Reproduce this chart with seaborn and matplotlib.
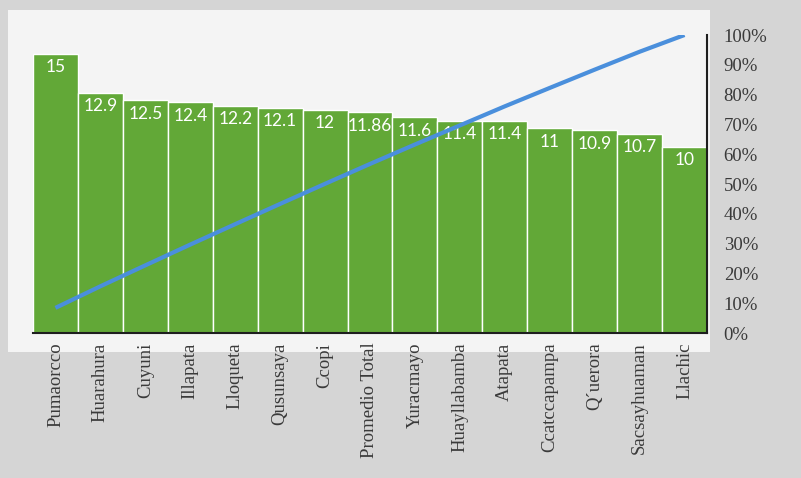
import numpy as np
import pandas as pd
import matplotlib
matplotlib.use("Agg")
import matplotlib.pyplot as plt
from matplotlib.patches import Rectangle
from matplotlib.ticker import PercentFormatter
import seaborn as sns

comunidades = ["Pumaorcco", "Huarahura", "Cuyuni", "Illapata", "Lloqueta", "Qusunsaya",
               "Ccopi", "Promedio Total", "Yuracmayo", "Huayllabamba", "Atapata",
               "Ccatccapampa", "Q´uerora", "Sacsayhuaman", "Llachic"]
valores = [15, 12.9, 12.5, 12.4, 12.2, 12.1, 12, 11.86, 11.6, 11.4, 11.4, 11, 10.9, 10.7, 10]
value_labels = ["15", "12.9", "12.5", "12.4", "12.2", "12.1", "12", "11.86", "11.6",
                "11.4", "11.4", "11", "10.9", "10.7", "10"]
pct_ticks = [0, 0.1, 0.2, 0.3, 0.4, 0.5, 0.6, 0.7, 0.8, 0.9, 1.0]

df = pd.DataFrame({"comunidad": comunidades, "valor": valores})
df["pos"] = np.arange(len(df))
df["acumulado"] = df["valor"].cumsum() / df["valor"].sum()

sns.set_theme(style="white")
plt.rcParams["font.family"] = ["Liberation Serif", "DejaVu Serif"]

W, H = 801, 478
fig = plt.figure(figsize=(W / 100, H / 100), dpi=100, facecolor="#d5d5d5")
# lighter chart-area panel behind the plot
fig.patches.append(Rectangle((8 / W, 1 - 352 / H), (710 - 8) / W, (352 - 10) / H,
                             transform=fig.transFigure, facecolor="#f4f4f4",
                             edgecolor="none", zorder=-10))

ax = fig.add_axes([33 / W, 1 - 333 / H, (707 - 33) / W, (333 - 35) / H])
ax.set_facecolor("none")

sns.barplot(data=df, x="comunidad", y="valor", ax=ax, color="#62a837",
            saturation=1, width=1.0, edgecolor="white", linewidth=1.0)
ax.set_ylim(0, 16)
ax.set_xlim(-0.5, len(df) - 0.5)
ax.set_yticks([])
ax.set_xlabel("")
ax.set_ylabel("")
ax.tick_params(axis="x", length=0, pad=7, labelsize=13.5, labelcolor="#3a3a3a")
for lab in ax.get_xticklabels():
    lab.set_rotation(90)
    lab.set_va("top")
    lab.set_ha("center")

for sp in ["left", "top", "right"]:
    ax.spines[sp].set_visible(False)
ax.spines["bottom"].set_color("#1e1e1e")
ax.spines["bottom"].set_linewidth(1.5)

for p, v, t in zip(df["pos"], df["valor"], value_labels):
    ax.annotate(t, (p, v), xytext=(0, -4), textcoords="offset points",
                ha="center", va="top", color="white", fontsize=12.5,
                family=["Lato", "DejaVu Sans"])

ax2 = ax.twinx()
sns.lineplot(data=df, x="pos", y="acumulado", ax=ax2, color="#4a8fdc",
             linewidth=3, solid_capstyle="butt")
ax2.set_ylim(0, 1.0)
ax2.set_xlim(-0.5, len(df) - 0.5)
ax2.set_yticks(pct_ticks)
ax2.yaxis.set_major_formatter(PercentFormatter(1.0, decimals=0))
ax2.tick_params(axis="y", length=0, pad=12, labelsize=13.5, labelcolor="#3a3a3a")
ax2.set_xlabel("")
ax2.set_ylabel("")
for sp in ["left", "top", "bottom"]:
    ax2.spines[sp].set_visible(False)
ax2.spines["right"].set_color("#1e1e1e")
ax2.spines["right"].set_linewidth(1.5)

fig.savefig("out.png", dpi=100, facecolor=fig.get_facecolor())
